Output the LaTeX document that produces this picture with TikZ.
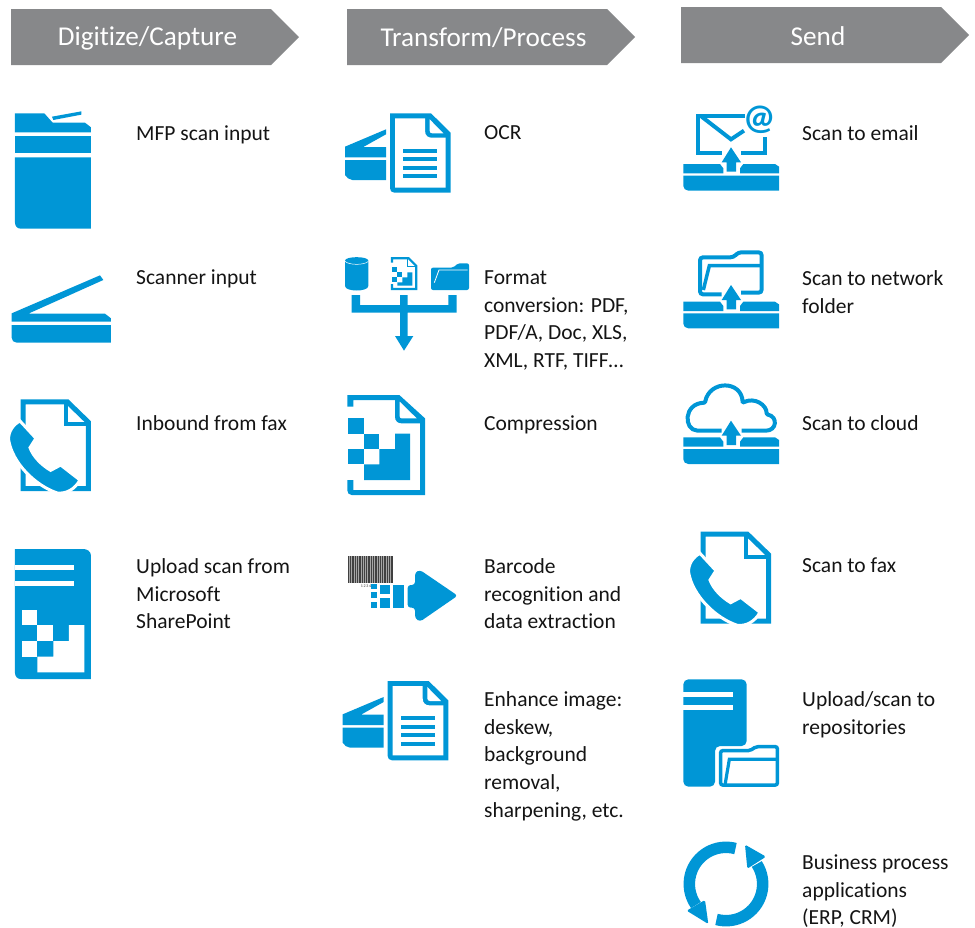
\documentclass[tikz,border=0pt]{standalone}
\usepackage{fontspec}
\setmainfont[Ligatures=NoCommon]{Carlito}
\definecolor{hpblue}{HTML}{0096D6}
\definecolor{hpgray}{HTML}{87888A}
\tikzset{
  lab/.style={anchor=north west,inner sep=0pt,align=left,yshift=-3.6pt,text=black!92,font=\fontsize{21.5}{27.6}\selectfont},
  hdr/.style={inner sep=0pt,text=white,font=\fontsize{27.2}{30}\selectfont},
  chev/.style={fill=hpgray,draw=none},
  zoomed/.style={x=.33333pt,y=-.33333pt},
  ink/.style={fill=hpblue,draw=none},
  wink/.style={fill=white,draw=none},
  line/.style={draw=hpblue,line width=#1,fill=none,miter limit=10},
  line/.default=5pt
}
\newcommand{\phoneicon}[2]{%
\begin{scope}[shift={(#1,#2)},zoomed]
 \begin{scope}
 \clip (0,0) rectangle (300,318);
 \draw[line=5pt] (69.5,50.5)--(202,50.5)--(265.5,112)--(265.5,311)--(69.5,311)--cycle;
 \draw[line=4pt] (198,50)--(198,118)--(265,118);
 \path[ink,draw=white,line width=3pt] (60,108)--(108,160)--(90,188)
   .. controls (100,215) and (125,240) .. (152,256)--(182,240)--(240,285)
   .. controls (225,312) and (200,327) .. (172,324)
   .. controls (105,302) and (36,232) .. (26,165)
   .. controls (24,140) and (40,118) .. (60,108)--cycle;
 \end{scope}
\end{scope}}
\newcommand{\ocricon}[2]{%
\begin{scope}[shift={(#1,#2)},zoomed]
 \path[ink] (30,140)--(153,88)--(153,103)--(85,141)--(153,141)--(153,172)--(30,172)--cycle;
 \path[ink] (30,180)--(153,180)--(153,240)--(52,240) .. controls (42,240) and (35,232) .. (30,225)--cycle;
 \path[ink] (165,40)--(288,40)--(347,98)--(347,278)--(178,278) .. controls (170,278) and (165,272) .. (165,265)--cycle;
 \path[wink] (180,55)--(270,55)--(270,92) .. controls (270,108) and (280,113) .. (290,113)--(332,113)--(332,263)--(180,263)--cycle;
 \path[wink] (284,58)--(325,100)--(292,100) .. controls (287,100) and (284,97) .. (284,92)--cycle;
 \foreach \yy in {152,177,203,229}{\path[ink] (205,\yy-6) rectangle (306,\yy+6);}
\end{scope}}
\newcommand{\trayicon}[2]{%
\begin{scope}[shift={(#1,#2)},zoomed]
 \path[ink] (40,192)--(150,192)--(160,205)--(160,220)--(40,220)--cycle;
 \path[ink] (210,220)--(210,205)--(220,192)--(315,192)--(327,200)--(327,220)--cycle;
 \path[ink] (40,227)--(327,227)--(327,272)--(55,272) .. controls (46,272) and (40,265) .. (40,258)--cycle;
 \path[ink] (183,142)--(213,187)--(198,187)--(198,215)--(170,215)--(170,187)--(155,187)--cycle;
\end{scope}}
\begin{document}
\begin{tikzpicture}[x=1pt,y=-1pt]
\useasboundingbox (0,0) rectangle (975,927);
% headers
\path[chev] (11,9)--(271,9)--(299,37)--(271,65)--(11,65)--cycle;
\node[hdr] (h1) at (147.5,38) {Digitize/Capture};
\path[chev] (347,9)--(607,9)--(635,37)--(607,65)--(347,65)--cycle;
\node[hdr] (h2) at (483.5,38) {Transform/Process};
\path[chev] (681,7)--(941,7)--(969,35)--(941,63)--(681,63)--cycle;
\node[hdr] (h3) at (818,36) {Send};
% MFP
\begin{scope}[shift={(0,90)},zoomed]
 \path[ink] (45,70)--(133,70)--(158,98)--(255,98)--(273,112)--(273,127)--(45,127)--cycle;
 \path[ink] (45,139) rectangle (273,188);
 \path[ink] (45,202)--(273,202)--(273,416)--(62,416) .. controls (52,416) and (45,408) .. (45,398)--cycle;
 \path[ink] (156,80)--(244,64)--(244,74)--(160,90)--cycle;
\end{scope}
% scanner
\begin{scope}[shift={(0,90)},zoomed]
 \path[ink] (35,670)--(300,556)--(310,570)--(85,671)--(315,671)--(333,685)--(333,695)--(35,695)--cycle;
 \path[ink] (35,705)--(333,705)--(333,758)--(50,758) .. controls (41,758) and (35,751) .. (35,743)--cycle;
\end{scope}
% fax
\phoneicon{0}{385}
% sharepoint
\begin{scope}[shift={(0,385)},zoomed]
 \path[ink] (45,492)--(250,492) .. controls (262,492) and (273,500) .. (273,512)--(273,882)--(62,882) .. controls (52,882) and (45,874) .. (45,864)--cycle;
 \path[wink] (45,540) rectangle (222,556);
 \path[wink] (45,587) rectangle (222,604);
 \path[wink] (66,674) rectangle (112,720);
 \path[wink] (112,720) rectangle (160,768);
 \path[wink] (66,768) rectangle (112,815);
 \path[wink] (207,720)--(253,720)--(253,862)--(112,862)--(112,815)--(160,815)--(160,768)--(207,768)--cycle;
\end{scope}
% OCR + enhance
\ocricon{335}{100}
\ocricon{332.67}{667.67}
% format conversion
\begin{scope}[shift={(335,100)},zoomed]
 \path[ink] (30,482) .. controls (30,468) and (100,468) .. (100,482)--(100,558)
   .. controls (100,576) and (30,576) .. (30,558)--cycle;
 \path[draw=white,line width=.5pt] (30,484) .. controls (42,496) and (88,496) .. (100,484);
 \path[line=2.2pt] (171,488)--(171,475)--(221,475)--(244,498)--(244,567)--(171,567)--(171,552);
 \path[line=1.6pt] (218,475)--(218,500)--(244,500);
 \path[ink] (172,502) rectangle (187,517);
 \path[ink] (187,517) rectangle (202,532);
 \path[ink] (172,532) rectangle (187,547);
 \path[ink] (217,517)--(232,517)--(232,557)--(187,557)--(187,547)--(202,547)--(202,532)--(217,532)--cycle;
 \path[ink,rounded corners=2pt] (288,570)--(288,503)--(355,503)--(368,490)--(402,490)--(402,570)--cycle;
 \path[draw=white,line width=.8pt] (398,510)--(312,510)--(298,548);
 \path[ink] (50,585)--(75,585)--(75,615)--(195,615)--(195,585)--(218,585)--(218,615)--(340,615)--(340,585)--(365,585)--(365,638)--(218,638)--(218,708)--(235,708)--(207,752)--(180,708)--(195,708)--(195,638)--(50,638)--cycle;
\end{scope}
% compression
\begin{scope}[shift={(335,385)},zoomed]
 \path[ink] (37,30)--(193,30)--(270,100)--(270,330)--(50,330) .. controls (42,330) and (37,324) .. (37,316)--(37,285)--(55,285)--(55,315)--(255,315)--(255,115)--(200,115) .. controls (188,115) and (180,108) .. (180,95)--(180,45)--(55,45)--(55,65)--(37,65)--cycle;
 \path[wink] (194,50)--(245,100)--(200,100) .. controls (196,100) and (194,97) .. (194,93)--cycle;
 \path[ink] (40,100) rectangle (87,146);
 \path[ink] (87,146) rectangle (133,192);
 \path[ink] (40,192) rectangle (87,238);
 \path[ink] (180,146)--(225,146)--(225,285)--(87,285)--(87,238)--(133,238)--(133,192)--(180,192)--cycle;
\end{scope}
% barcode
\begin{scope}[shift={(335,385)},zoomed]
 \path[fill=black!35] (40,513) rectangle (175,595);
 \foreach \xx/\ww in {40/3,46/2,52/6,60/2,66/3,72/7,81/2,87/3,94/2,100/6,108/3,114/2,120/6,128/2,134/4,141/3,147/7,156/2,161/4,168/2,172/3}{
   \path[fill=black!75] (\xx,513) rectangle (\xx+\ww,595);}
 \node[inner sep=0pt,text=black!80,font=\fontsize{4}{4}\selectfont] (digits) at (97,604) {1\,2\,3\,4\,5};
 \path[ink] (108,598) rectangle (125,612);
 \path[ink] (108,622) rectangle (125,638);
 \path[ink] (108,652) rectangle (125,668);
 \path[ink] (135,600) rectangle (165,627);
 \path[ink] (135,638) rectangle (165,668);
 \path[ink] (175,600) rectangle (207,668);
 \path[ink,rounded corners=3pt] (218,600)--(240,600)--(240,562)--(255,555)--(368,632)--(255,710)--(240,700)--(240,668)--(218,668)--cycle;
\end{scope}
% send: email
\trayicon{670}{100}
\begin{scope}[shift={(670,100)},zoomed]
 \path[line=4pt] (155,160)--(85,160)--(85,48)--(225,48);
 \path[line=4pt] (95,50)--(183,118)--(222,92);
 \path[line=4pt] (285,112)--(285,160)--(213,160);
 \node[inner sep=0pt,text=hpblue,font=\fontsize{36}{36}\selectfont\bfseries] (at) at (268,60) {@};
\end{scope}
% send: folder
\trayicon{670}{237.67}
\begin{scope}[shift={(670,100)},zoomed]
 \path[line=4pt,rounded corners=3pt] (155,583)--(90,583)--(90,472)--(190,472)--(205,457)--(275,457)--(275,578)--(213,578);
 \path[line=3.5pt] (100,570)--(118,497)--(275,497);
\end{scope}
% send: cloud
\trayicon{670}{373.33}
\begin{scope}[shift={(670,380)},zoomed]
 \path[line=4pt,rounded corners=1pt] (155,152)--(85,152) .. controls (40,150) and (40,70) .. (105,68)
   .. controls (118,0) and (215,0) .. (218,68) .. controls (255,50) and (290,75) .. (290,103)
   .. controls (325,110) and (320,152) .. (285,152)--(215,152);
\end{scope}
% send: fax
\phoneicon{680}{517.33}
% send: repositories
\begin{scope}[shift={(670,670)},zoomed]
 \path[ink,rounded corners=5pt] (40,28)--(230,28)--(230,228)--(135,228)--(135,350)--(40,350)--cycle;
 \path[wink] (40,67) rectangle (188,80);
 \path[wink] (40,105) rectangle (188,120);
 \path[line=3.5pt,rounded corners=2pt] (152,345)--(152,242)--(240,242)--(258,230)--(322,230)--(322,345)--cycle;
 \path[line=3.2pt] (165,345)--(178,268)--(322,268);
\end{scope}
% send: cycle
\begin{scope}[shift={(670,670)},zoomed]
 \path[line=11.5pt] (168,642) ++(75:36.7pt) arc[start angle=75,end angle=215,radius=36.7pt];
 \path[line=11.5pt] (168,642) ++(255:36.7pt) arc[start angle=255,end angle=393,radius=36.7pt];
 \path[ink,rounded corners=1.5pt] (50,722)--(105,690)--(115,762)--cycle;
 \path[ink,rounded corners=1.5pt] (225,524)--(288,560)--(232,596)--cycle;
\end{scope}
% labels
\node[lab] (t1) at (136,122) {MFP scan input};
\node[lab] (t2) at (136,266) {Scanner input};
\node[lab] (t3) at (136,412) {Inbound from fax};
\node[lab] (t4) at (136,555) {Upload scan from\\Microsoft\\SharePoint};
\node[lab] (t5) at (484,122) {OCR};
\node[lab] (t6) at (484,267) {Format\\conversion: PDF,\\PDF/A, Doc, XLS,\\XML, RTF, TIFF\dots};
\node[lab] (t7) at (484,412) {Compression};
\node[lab] (t8) at (484,555) {Barcode\\recognition and\\data extraction};
\node[lab] (t9) at (484,688) {Enhance image:\\deskew,\\background\\removal,\\sharpening, etc.};
\node[lab] (t10) at (802,122) {Scan to email};
\node[lab] (t11) at (802,267) {Scan to network\\folder};
\node[lab] (t12) at (802,412) {Scan to cloud};
\node[lab] (t13) at (802,554) {Scan to fax};
\node[lab] (t14) at (802,688) {Upload/scan to\\repositories};
\node[lab] (t15) at (802,851) {Business process\\applications\\(ERP, CRM)};
\end{tikzpicture}
\end{document}
